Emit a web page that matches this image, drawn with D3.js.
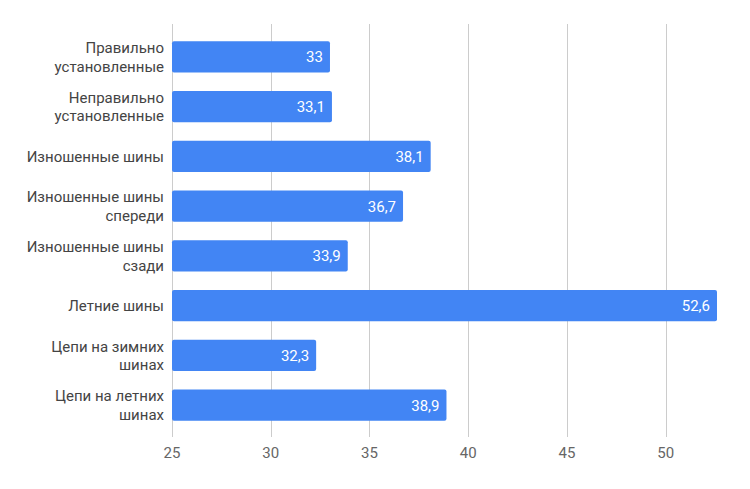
<!DOCTYPE html>
<html>
<head>
<meta charset="utf-8">
<script src="https://cdn.jsdelivr.net/npm/d3@7"></script>
<style>
  body { margin: 0; background: #fff; }
  text { font-family: Roboto, "Noto Sans", sans-serif; }
</style>
</head>
<body>
<div id="chart"></div>
<script>
// data
const categories = [
    ['Правильно', 'установленные'],
    ['Неправильно', 'установленные'],
    ['Изношенные шины'],
    ['Изношенные шины', 'спереди'],
    ['Изношенные шины', 'сзади'],
    ['Летние шины'],
    ['Цепи на зимних', 'шинах'],
    ['Цепи на летних', 'шинах']
];
const values = [33, 33.1, 38.1, 36.7, 33.9, 52.6, 32.3, 38.9];
const xTicks = [25, 30, 35, 40, 45, 50];

const width = 750, height = 489;
const left = 172, right = 717;   // 25 .. 52.6
const gridTop = 24, gridBottom = 437;

const svg = d3.select('#chart').append('svg')
    .attr('width', width)
    .attr('height', height);

const xScale = d3.scaleLinear()
    .domain([25, 52.6])
    .range([left, right]);

const yScale = d3.scaleBand()
    .domain(d3.range(categories.length))
    .range([32, 430])
    .paddingInner(0.37)
    .paddingOuter(0.185);

const fmt = v => String(v).replace('.', ',');

// vertical gridlines
svg.append('g').selectAll('line').data(xTicks)
    .enter().append('line')
    .attr('x1', d => Math.round(xScale(d)) + 0.5)
    .attr('x2', d => Math.round(xScale(d)) + 0.5)
    .attr('y1', gridTop)
    .attr('y2', gridBottom)
    .attr('stroke', '#cccccc')
    .attr('stroke-width', 1);

// x tick labels
svg.append('g').selectAll('text').data(xTicks)
    .enter().append('text')
    .attr('x', d => xScale(d))
    .attr('y', 458)
    .attr('text-anchor', 'middle')
    .attr('fill', '#666')
    .style('font-size', '15px')
    .text(d => d);

// bars
svg.append('g').selectAll('rect').data(values)
    .enter().append('rect')
    .attr('x', xScale(25))
    .attr('y', (d, i) => yScale(i))
    .attr('width', d => xScale(d) - xScale(25))
    .attr('height', yScale.bandwidth())
    .attr('rx', 2)
    .attr('fill', '#4285f4');

// value labels
svg.append('g').selectAll('text').data(values)
    .enter().append('text')
    .attr('x', d => xScale(d) - 7)
    .attr('y', (d, i) => yScale(i) + yScale.bandwidth() / 2)
    .attr('dy', '0.36em')
    .attr('text-anchor', 'end')
    .attr('fill', '#fff')
    .style('font-size', '15px')
    .text(d => fmt(d));

// category labels
const catG = svg.append('g').selectAll('text').data(categories)
    .enter().append('text')
    .attr('text-anchor', 'end')
    .attr('fill', '#444')
    .style('font-size', '15px');

catG.each(function (lines, i) {
    const cy = yScale(i) + yScale.bandwidth() / 2;
    const lh = 18.5;
    const y0 = cy - (lines.length - 1) * lh / 2;
    d3.select(this).selectAll('tspan').data(lines)
        .enter().append('tspan')
        .attr('x', 164)
        .attr('y', (d, j) => y0 + j * lh)
        .attr('dy', '0.36em')
        .text(d => d);
});
</script>
</body>
</html>
